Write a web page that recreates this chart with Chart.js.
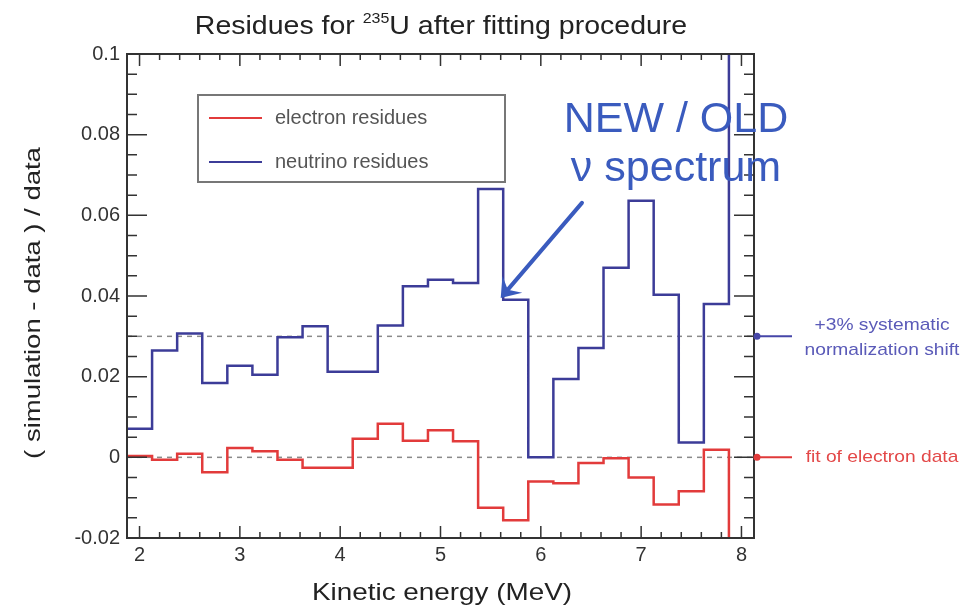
<!DOCTYPE html>
<html lang="en">
<head>
  <meta charset="UTF-8">
  <title>Residues for 235U after fitting procedure</title>
  <script src="https://cdn.jsdelivr.net/npm/chart.js"></script>
  <style>
    body { margin: 0; background: #fff; }
  </style>
</head>
<body>
  <canvas id="residueChart" width="967" height="608"></canvas>

  <script>
    // bin centres in MeV, every bin is 0.25 MeV wide
    const energy = [2.0, 2.25, 2.5, 2.75, 3.0, 3.25, 3.5, 3.75, 4.0, 4.25, 4.5, 4.75, 5.0,
                    5.25, 5.5, 5.75, 6.0, 6.25, 6.5, 6.75, 7.0, 7.25, 7.5, 7.75, 8.0];
    const binWidth = 0.25;

    const electronResidues = [0.0003, -0.0006, 0.0009, -0.0037, 0.0023, 0.0015, -0.0006, -0.0026, -0.0026,
                              0.0046, 0.0083, 0.0041, 0.0067, 0.0040, -0.0125, -0.0156, -0.0060, -0.0064,
                              -0.0014, -0.0002, -0.0050, -0.0117, -0.0084, 0.0019, -0.04];
    const neutrinoResidues = [0.0071, 0.0265, 0.0307, 0.0184, 0.0227, 0.0205, 0.0298, 0.0325, 0.0212,
                              0.0212, 0.0327, 0.0424, 0.0440, 0.0432, 0.0665, 0.0391, 0.0, 0.0194,
                              0.0271, 0.0470, 0.0636, 0.0403, 0.0037, 0.0380, 0.12];

    const xTicks = [2, 3, 4, 5, 6, 7, 8];
    const yTicks = [-0.02, 0, 0.02, 0.04, 0.06, 0.08, 0.1];
    const systematicShift = 0.03;
    const arrowFrom = { x: 6.41, y: 0.0631 };
    const arrowTo = { x: 5.60, y: 0.0395 };

    const RED = "#e23b3b";
    const BLUE = "#3c3c98";
    const NOTE_BLUE = "#3a5bbe";
    const AXIS = "#333";

    Chart.defaults.font.family = '"Liberation Sans", Arial, sans-serif';

    // left bin edges + one closing point, drawn as steps
    function histPoints(values) {
      const pts = values.map((v, i) => ({ x: energy[i] - binWidth / 2, y: v }));
      pts.push({ x: energy[energy.length - 1] + binWidth / 2, y: values[values.length - 1] });
      return pts;
    }

    // ROOT-like text is a bit wide, so stretch horizontally
    function wideText(ctx, text, x, y, sx, align) {
      ctx.save();
      ctx.translate(x, y);
      ctx.scale(sx, 1);
      ctx.textAlign = align || "left";
      ctx.fillText(text, 0, 0);
      ctx.restore();
    }

    const decor = {
      id: "decor",
      beforeDatasetsDraw(chart) {
        const { ctx, chartArea: a, scales: { y } } = chart;
        ctx.save();
        ctx.strokeStyle = "#8a8a8a";
        ctx.lineWidth = 1.5;
        ctx.setLineDash([5, 5]);
        [systematicShift, 0].forEach(v => {
          const py = y.getPixelForValue(v);
          ctx.beginPath();
          ctx.moveTo(a.left, py);
          ctx.lineTo(a.right, py);
          ctx.stroke();
        });
        ctx.restore();
      },
      afterDatasetsDraw(chart) {
        const { ctx, chartArea: a, scales: { x, y } } = chart;
        ctx.save();

        // frame + inward ticks on all four sides
        ctx.strokeStyle = AXIS;
        ctx.lineWidth = 2;
        ctx.strokeRect(a.left, a.top, a.right - a.left, a.bottom - a.top);
        ctx.lineWidth = 1.5;
        ctx.beginPath();
        for (let i = 10; i <= 40; i++) {
          const px = x.getPixelForValue(i * 0.2);
          const len = i % 5 === 0 ? 12 : 6;
          ctx.moveTo(px, a.bottom); ctx.lineTo(px, a.bottom - len);
          ctx.moveTo(px, a.top); ctx.lineTo(px, a.top + len);
        }
        for (let i = -4; i <= 20; i++) {
          const py = y.getPixelForValue(i * 0.005);
          const len = i % 4 === 0 ? 20 : 10;
          ctx.moveTo(a.left, py); ctx.lineTo(a.left + len, py);
          ctx.moveTo(a.right, py); ctx.lineTo(a.right - len, py);
        }
        ctx.stroke();

        // legend box
        ctx.fillStyle = "#fff";
        ctx.fillRect(198, 95, 307, 87);
        ctx.strokeStyle = "#777";
        ctx.lineWidth = 2;
        ctx.strokeRect(198, 95, 307, 87);
        const rows = [118, 162];
        chart.data.datasets.forEach((ds, i) => {
          ctx.strokeStyle = ds.borderColor;
          ctx.lineWidth = 2;
          ctx.beginPath();
          ctx.moveTo(209, rows[i]);
          ctx.lineTo(262, rows[i]);
          ctx.stroke();
          ctx.fillStyle = "#555";
          ctx.font = '20px "Liberation Sans"';
          ctx.textBaseline = "middle";
          ctx.textAlign = "left";
          ctx.fillText(ds.label, 275, rows[i]);
        });

        // title with superscript mass number
        ctx.fillStyle = "#222";
        ctx.textBaseline = "alphabetic";
        const sx = 1.14;
        const parts = [["Residues for ", 25, 0], ["235", 14, -11], ["U after fitting procedure", 25, 0]];
        let total = 0;
        parts.forEach(p => { ctx.font = p[1] + 'px "Liberation Sans"'; total += ctx.measureText(p[0]).width * sx; });
        let tx = 441 - total / 2;
        parts.forEach(p => {
          ctx.font = p[1] + 'px "Liberation Sans"';
          wideText(ctx, p[0], tx, 34 + p[2], sx);
          tx += ctx.measureText(p[0]).width * sx;
        });

        // axis titles
        ctx.fillStyle = "#222";
        ctx.font = '24px "Liberation Sans"';
        wideText(ctx, "Kinetic energy (MeV)", 442, 600, 1.16, "center");
        ctx.save();
        ctx.translate(40, 303);
        ctx.rotate(-Math.PI / 2);
        ctx.font = '22px "Liberation Sans"';
        wideText(ctx, "( simulation - data ) / data", 0, 0, 1.25, "center");
        ctx.restore();

        // right-hand markers
        [[systematicShift, "#4646a8"], [0, "#e03a3a"]].forEach(m => {
          const py = y.getPixelForValue(m[0]);
          ctx.strokeStyle = m[1];
          ctx.lineWidth = 2;
          ctx.beginPath();
          ctx.moveTo(a.right, py);
          ctx.lineTo(a.right + 38, py);
          ctx.stroke();
          ctx.fillStyle = m[1];
          ctx.beginPath();
          ctx.arc(a.right + 3, py, 3.5, 0, Math.PI * 2);
          ctx.fill();
        });
        ctx.font = '17px "Liberation Sans"';
        ctx.textBaseline = "middle";
        ctx.fillStyle = "#5a5ab8";
        wideText(ctx, "+3% systematic", 882, 325, 1.13, "center");
        wideText(ctx, "normalization shift", 882, 350, 1.13, "center");
        ctx.fillStyle = "#e34848";
        wideText(ctx, "fit of electron data", 882, 457, 1.13, "center");

        // NEW / OLD note and arrow
        ctx.fillStyle = NOTE_BLUE;
        ctx.font = '43px "Liberation Sans"';
        ctx.textBaseline = "alphabetic";
        ctx.textAlign = "center";
        ctx.fillText("NEW / OLD", 676, 132);
        ctx.fillText("\u03bd spectrum", 676, 181);

        const x0 = x.getPixelForValue(arrowFrom.x), y0 = y.getPixelForValue(arrowFrom.y);
        const x1 = x.getPixelForValue(arrowTo.x), y1 = y.getPixelForValue(arrowTo.y);
        const ang = Math.atan2(y1 - y0, x1 - x0);
        const headLen = 18, headW = 13;
        const c = Math.cos(ang), s = Math.sin(ang);
        const bx = x1 - headLen * c, by = y1 - headLen * s;
        ctx.strokeStyle = NOTE_BLUE;
        ctx.lineWidth = 4;
        ctx.lineCap = "round";
        ctx.beginPath();
        ctx.moveTo(x0, y0);
        ctx.lineTo(bx + 8 * c, by + 8 * s);
        ctx.stroke();
        ctx.beginPath();
        ctx.moveTo(x1, y1);
        ctx.lineTo(bx + headW * s, by - headW * c);
        ctx.lineTo(bx + 7 * c, by + 7 * s);
        ctx.lineTo(bx - headW * s, by + headW * c);
        ctx.closePath();
        ctx.fill();

        ctx.restore();
      }
    };

    const tickFont = { size: 20, family: '"Liberation Sans", Arial, sans-serif' };

    new Chart(document.getElementById("residueChart"), {
      type: "line",
      data: {
        datasets: [
          {
            label: "electron residues",
            data: histPoints(electronResidues),
            borderColor: RED,
            borderWidth: 2.5,
            stepped: "before",
            pointRadius: 0,
            fill: false
          },
          {
            label: "neutrino residues",
            data: histPoints(neutrinoResidues),
            borderColor: BLUE,
            borderWidth: 2.5,
            stepped: "before",
            pointRadius: 0,
            fill: false
          }
        ]
      },
      options: {
        responsive: false,
        animation: false,
        layout: { padding: { left: 0, right: 213, top: 54, bottom: 0 } },
        plugins: {
          legend: { display: false },
          tooltip: { enabled: false }
        },
        scales: {
          x: {
            type: "linear",
            min: 1.875,
            max: 8.125,
            afterFit: s => { s.height = 70; },
            afterBuildTicks: s => { s.ticks = xTicks.map(v => ({ value: v })); },
            grid: { display: false, drawTicks: false },
            border: { display: false },
            ticks: { font: tickFont, color: AXIS, padding: 5, maxRotation: 0 }
          },
          y: {
            type: "linear",
            min: -0.02,
            max: 0.1,
            afterFit: s => { s.width = 127; },
            afterBuildTicks: s => { s.ticks = yTicks.map(v => ({ value: v })); },
            grid: { display: false, drawTicks: false },
            border: { display: false },
            ticks: { font: tickFont, color: AXIS, padding: 7, callback: v => String(+v.toFixed(3)) }
          }
        }
      },
      plugins: [decor]
    });
  </script>
</body>
</html>
